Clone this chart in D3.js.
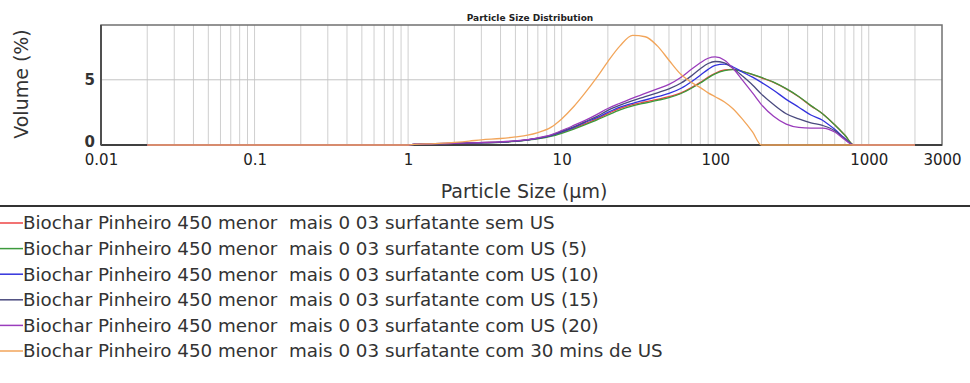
<!DOCTYPE html>
<html>
<head>
<meta charset="utf-8">
<script src="https://cdn.jsdelivr.net/npm/d3@7"></script>
<style>
  body { margin: 0; background: #fff; }
  svg { display: block; }
  text { white-space: pre; }
</style>
</head>
<body>
<div id="wrapper"></div>
<script>
// particle sizes (µm), shared by every series
const sizes = [0.02, 1.0, 1.1, 1.5, 2, 2.5, 3, 4, 5, 6, 7, 8.5, 10, 12, 14, 17, 20, 24, 29, 35, 42,
  50, 60, 70, 80, 90, 100, 115, 130, 150, 175, 200, 240, 290, 350, 420, 500, 600, 700, 800, 2000]

// volume (%) per sample
const semUS = [0, 0, 0.05, 0.1, 0.12, 0.15, 0.18, 0.22, 0.3, 0.4, 0.5, 0.7, 0.95, 1.3, 1.6, 2.0, 2.4, 2.8, 3.1, 3.3, 3.5,
  3.7, 4.0, 4.4, 4.8, 5.2, 5.5, 5.75, 5.8, 5.65, 5.4, 5.15, 4.8, 4.3, 3.7, 3.0, 2.4, 1.55, 0.75, 0, 0]
const comUS5 = [0, 0, 0.05, 0.1, 0.12, 0.14, 0.17, 0.2, 0.28, 0.38, 0.48, 0.66, 0.9, 1.22, 1.52, 1.92, 2.3, 2.7, 3.0, 3.22, 3.42,
  3.63, 3.95, 4.35, 4.75, 5.15, 5.45, 5.7, 5.78, 5.65, 5.42, 5.18, 4.82, 4.32, 3.72, 3.02, 2.4, 1.55, 0.75, 0, 0]
const comUS10 = [0, 0, 0.05, 0.1, 0.12, 0.15, 0.17, 0.22, 0.3, 0.4, 0.5, 0.72, 1.0, 1.35, 1.7, 2.1, 2.5, 2.9, 3.2, 3.45, 3.7,
  3.95, 4.35, 4.85, 5.35, 5.8, 6.1, 6.2, 6.0, 5.6, 5.2, 4.8, 4.2, 3.5, 2.9, 2.3, 1.9, 1.2, 0.5, 0, 0]
const comUS15 = [0, 0, 0.05, 0.1, 0.13, 0.15, 0.18, 0.22, 0.3, 0.4, 0.52, 0.74, 1.05, 1.4, 1.75, 2.2, 2.65, 3.05, 3.4, 3.7, 4.0,
  4.3, 4.75, 5.3, 5.85, 6.25, 6.4, 6.3, 5.9, 5.3, 4.6, 3.9, 3.1, 2.4, 2.0, 1.7, 1.5, 1.1, 0.45, 0, 0]
const comUS20 = [0, 0, 0.06, 0.1, 0.13, 0.16, 0.19, 0.24, 0.32, 0.42, 0.55, 0.78, 1.1, 1.5, 1.85, 2.35, 2.8, 3.2, 3.6, 3.95, 4.3,
  4.65, 5.2, 5.8, 6.3, 6.65, 6.75, 6.5, 5.9, 5.0, 4.0, 3.1, 2.2, 1.6, 1.35, 1.3, 1.3, 1.0, 0.4, 0, 0]
const com30mins = [0, 0, 0.05, 0.1, 0.2, 0.3, 0.4, 0.5, 0.62, 0.75, 0.95, 1.35, 2.0, 2.95, 3.9, 5.2, 6.4, 7.6, 8.4, 8.3, 7.6,
  6.5, 5.4, 4.8, 4.4, 4.0, 3.7, 3.3, 2.8, 2.0, 1.0, 0, 0, 0, 0, 0, 0, 0, 0, 0, 0]

const seriesNames = [
  "Biochar Pinheiro 450 menor  mais 0 03 surfatante sem US",
  "Biochar Pinheiro 450 menor  mais 0 03 surfatante com US (5)",
  "Biochar Pinheiro 450 menor  mais 0 03 surfatante com US (10)",
  "Biochar Pinheiro 450 menor  mais 0 03 surfatante com US (15)",
  "Biochar Pinheiro 450 menor  mais 0 03 surfatante com US (20)",
  "Biochar Pinheiro 450 menor  mais 0 03 surfatante com 30 mins de US"
]
const seriesValues = [semUS, comUS5, comUS10, comUS15, comUS20, com30mins]
const seriesColors = ["#ee4444", "#3c9a3c", "#3333dd", "#4a4a7e", "#9a3cbc", "#f2a55a"]

const xTicks = [0.01, 0.1, 1, 10, 100, 1000, 3000]
const yTicks = [0, 5]

const width = 970
const height = 383
const dimensions = {
  width, height,
  margin: { top: 25, right: 28, bottom: 238, left: 101 }
}
dimensions.boundedWidth = width - dimensions.margin.left - dimensions.margin.right
dimensions.boundedHeight = height - dimensions.margin.top - dimensions.margin.bottom

const font = "'DejaVu Sans', Verdana, sans-serif"

const svg = d3.select("#wrapper").append("svg")
  .attr("width", width)
  .attr("height", height)

const bounds = svg.append("g")
  .attr("transform", `translate(${dimensions.margin.left},${dimensions.margin.top})`)

// scales
const xScale = d3.scaleLog()
  .domain([0.01, 3000])
  .range([0, dimensions.boundedWidth])
const yScale = d3.scaleLinear()
  .domain([0, 9.2])
  .range([dimensions.boundedHeight, 0])

// grid: every 1..9 step inside each decade
const gridValues = []
for (let p = -2; p <= 3; p++) {
  for (let m = 1; m <= 9; m++) {
    const v = m * Math.pow(10, p)
    if (v > 0.01 && v < 3000) gridValues.push(v)
  }
}
bounds.append("g").selectAll("line")
  .data(gridValues)
  .join("line")
    .attr("x1", d => xScale(d)).attr("x2", d => xScale(d))
    .attr("y1", 0).attr("y2", dimensions.boundedHeight)
    .attr("stroke", "#cfcfcf")
    .attr("stroke-width", 1)
bounds.append("line")
  .attr("x1", 0).attr("x2", dimensions.boundedWidth)
  .attr("y1", yScale(5)).attr("y2", yScale(5))
  .attr("stroke", "#c4c4c4")

// frame
bounds.append("rect")
  .attr("width", dimensions.boundedWidth)
  .attr("height", dimensions.boundedHeight)
  .attr("fill", "none")
  .attr("stroke", "#707070")
  .attr("stroke-width", 1.5)
bounds.append("line")
  .attr("x1", 0).attr("x2", dimensions.boundedWidth)
  .attr("y1", dimensions.boundedHeight).attr("y2", dimensions.boundedHeight)
  .attr("stroke", "#404040").attr("stroke-width", 2)
bounds.append("line")
  .attr("x1", 0).attr("x2", 0)
  .attr("y1", 0).attr("y2", dimensions.boundedHeight)
  .attr("stroke", "#505050").attr("stroke-width", 2)

// curves
const lineGenerator = d3.line()
  .x(d => xScale(d[0]))
  .y(d => yScale(d[1]))
  .curve(d3.curveMonotoneX)

bounds.append("g").selectAll("path")
  .data(seriesValues)
  .join("path")
    .attr("d", vals => lineGenerator(sizes.map((s, i) => [s, vals[i]])))
    .attr("fill", "none")
    .attr("stroke", (d, i) => seriesColors[i])
    .attr("stroke-width", 1.3)

// axes labels
const xAxis = d3.axisBottom(xScale)
  .tickValues(xTicks)
  .tickFormat(d3.format("~g"))
  .tickSize(0)
  .tickPadding(9)
const xAxisGroup = bounds.append("g")
  .attr("transform", `translate(0,${dimensions.boundedHeight})`)
  .call(xAxis)
xAxisGroup.select(".domain").remove()
xAxisGroup.selectAll("text")
  .attr("font-family", font)
  .attr("font-size", 15)
  .attr("fill", "#222")

const yAxis = d3.axisLeft(yScale)
  .tickValues(yTicks)
  .tickSize(0)
  .tickPadding(6)
const yAxisGroup = bounds.append("g").call(yAxis)
yAxisGroup.select(".domain").remove()
yAxisGroup.selectAll("text")
  .attr("font-family", font)
  .attr("font-size", 15)
  .attr("font-weight", "bold")
  .attr("fill", "#333")
yAxisGroup.selectAll(".tick").filter(d => d === 0).select("text").attr("dy", "0.1em")

svg.append("text")
  .attr("x", 530)
  .attr("y", 21)
  .attr("text-anchor", "middle")
  .attr("font-family", font)
  .attr("font-size", 9)
  .attr("font-weight", "bold")
  .attr("fill", "#222")
  .text("Particle Size Distribution")

svg.append("text")
  .attr("transform", `translate(28,${dimensions.margin.top + dimensions.boundedHeight / 2 - 1}) rotate(-90)`)
  .attr("text-anchor", "middle")
  .attr("font-family", font)
  .attr("font-size", 19)
  .attr("fill", "#333")
  .text("Volume (%)")

svg.append("text")
  .attr("x", 524)
  .attr("y", 198)
  .attr("text-anchor", "middle")
  .attr("font-family", font)
  .attr("font-size", 19)
  .attr("fill", "#333")
  .text("Particle Size (µm)")

// separator
svg.append("line")
  .attr("x1", 0).attr("x2", width)
  .attr("y1", 206).attr("y2", 206)
  .attr("stroke", "#333").attr("stroke-width", 2)

// legend
const legend = svg.append("g")
  .attr("transform", "translate(0,223)")
const legendItems = legend.selectAll("g")
  .data(seriesNames)
  .join("g")
    .attr("transform", (d, i) => `translate(0,${i * 25.6})`)
legendItems.append("line")
  .attr("x1", 0).attr("x2", 23)
  .attr("stroke", (d, i) => seriesColors[i])
  .attr("stroke-width", 1.5)
legendItems.append("text")
  .attr("x", 23)
  .attr("dy", "0.35em")
  .attr("font-family", font)
  .attr("font-size", 18.3)
  .attr("fill", "#333")
  .text(d => d)
</script>
</body>
</html>
